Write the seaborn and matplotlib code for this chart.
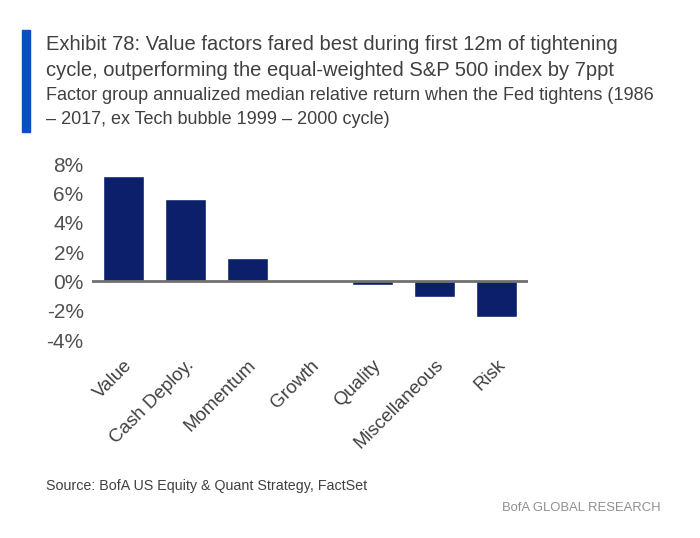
import matplotlib
matplotlib.use("Agg")
import matplotlib.pyplot as plt
import seaborn as sns
import pandas as pd

categories = ["Value", "Cash Deploy.", "Momentum", "Growth", "Quality", "Miscellaneous", "Risk"]
values = [7.15, 5.6, 1.6, 0.05, -0.23, -1.09, -2.45]
yticks = [-4, -2, 0, 2, 4, 6, 8]
ytick_labels = ["-4%", "-2%", "0%", "2%", "4%", "6%", "8%"]

sns.set_theme(style="white")
plt.rcParams["font.family"] = ["Liberation Sans", "DejaVu Sans"]

df = pd.DataFrame({"cat": categories, "val": values})

fig = plt.figure(figsize=(7, 5.38), dpi=100)
ax = fig.add_axes([92/700, 1-340/538, 436/700, 176/538])
sns.barplot(data=df, x="cat", y="val", color="#0b1f6b", saturation=1, width=0.66, ax=ax)
ax.set_xlim(-0.5, 6.5)
ax.set_ylim(-4, 8)
ax.set_yticks(yticks)
ax.set_yticklabels(ytick_labels, fontsize=15, color="#505050")
ax.set_xlabel("")
ax.set_ylabel("")
ax.axhline(0, color="#707070", lw=2, zorder=3)
for s in ax.spines.values():
    s.set_visible(False)
ax.tick_params(axis="y", length=0, pad=6)
ax.tick_params(axis="x", length=0, pad=12)
ax.set_xticks(range(len(categories)))
ax.set_xticklabels(categories, rotation=45, ha="right", rotation_mode="anchor",
                   fontsize=13.5, color="#404040")

# title block
fig.patches.append(plt.Rectangle((22/700, 1-132/538), 8/700, 102/538,
                                 transform=fig.transFigure, color="#0a4fbf"))
fig.text(46/700, 1-45/538, "Exhibit 78: Value factors fared best during first 12m of tightening",
         fontsize=14.5, color="#404040", va="center")
fig.text(46/700, 1-71/538, "cycle, outperforming the equal-weighted S&P 500 index by 7ppt",
         fontsize=14.5, color="#404040", va="center")
fig.text(46/700, 1-96/538, "Factor group annualized median relative return when the Fed tightens (1986",
         fontsize=13.0, color="#404040", va="center")
fig.text(46/700, 1-120/538, "\u2013 2017, ex Tech bubble 1999 \u2013 2000 cycle)",
         fontsize=13.0, color="#404040", va="center")
fig.text(46/700, 1-486/538, "Source: BofA US Equity & Quant Strategy, FactSet",
         fontsize=10.3, color="#404040", va="center")
fig.text(660/700, 1-508/538, "BofA GLOBAL RESEARCH",
         fontsize=9.4, color="#909090", va="center", ha="right")

fig.savefig("out.png", dpi=100, facecolor="white")
